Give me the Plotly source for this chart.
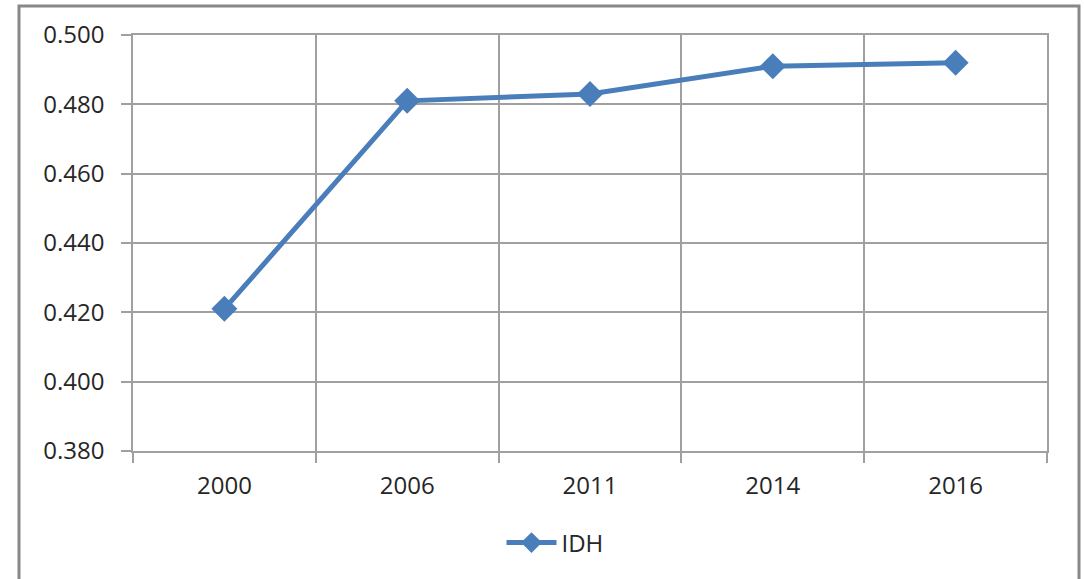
import plotly.graph_objects as go

years = ["2000", "2006", "2011", "2014", "2016"]
idh = [0.421, 0.481, 0.483, 0.491, 0.492]
y_ticks = [0.380, 0.400, 0.420, 0.440, 0.460, 0.480, 0.500]

W, H = 1084, 579
L, R, T, B = 133, 37, 35, 128
pw, ph = W - L - R, H - T - B

fig = go.Figure()
fig.add_trace(go.Scatter(
    x=years, y=idh, name="IDH", mode="lines+markers",
    line=dict(color="#4A7EBB", width=5),
    marker=dict(symbol="diamond", size=20, color="#4A7EBB"),
))

grid = "#A0A0A0"
fig.update_layout(
    width=W, height=H,
    margin=dict(l=L, r=R, t=T, b=B),
    paper_bgcolor="white", plot_bgcolor="white",
    font=dict(family="Open Sans, Liberation Sans, sans-serif", size=24, color="#262626"),
    showlegend=True,
    legend=dict(orientation="h", x=(555 - L) / pw, xanchor="center",
                y=(H - B - 543) / ph, yanchor="middle",
                font=dict(size=24), itemwidth=50),
    xaxis=dict(type="category", tickson="boundaries", showgrid=True, gridcolor=grid,
               gridwidth=1.5, showline=True, linecolor=grid, linewidth=1.5,
               ticks="outside", ticklen=10, tickcolor=grid, tickwidth=1.5,
               ticklabelstandoff=12,
               mirror=True, range=[-0.5, 4.5], zeroline=False),
    yaxis=dict(range=[0.380, 0.500], tickvals=y_ticks,
               ticktext=[f"{v:.3f}" for v in y_ticks],
               showgrid=True, gridcolor=grid, gridwidth=1.5,
               showline=True, linecolor=grid, linewidth=1.5, mirror=True,
               ticks="outside", ticklen=10, tickcolor=grid, tickwidth=1.5,
               ticklabelstandoff=12,
               zeroline=False),
)

fig.add_shape(type="rect", xref="paper", yref="paper",
              x0=(19 - L) / pw, x1=(1079 - L) / pw,
              y0=(H - B - 620) / ph, y1=(H - B - 6) / ph,
              line=dict(color="#888888", width=3), layer="below")

fig.write_html("out.html", config={"displayModeBar": False},
               post_script="document.body.style.margin='0';")
